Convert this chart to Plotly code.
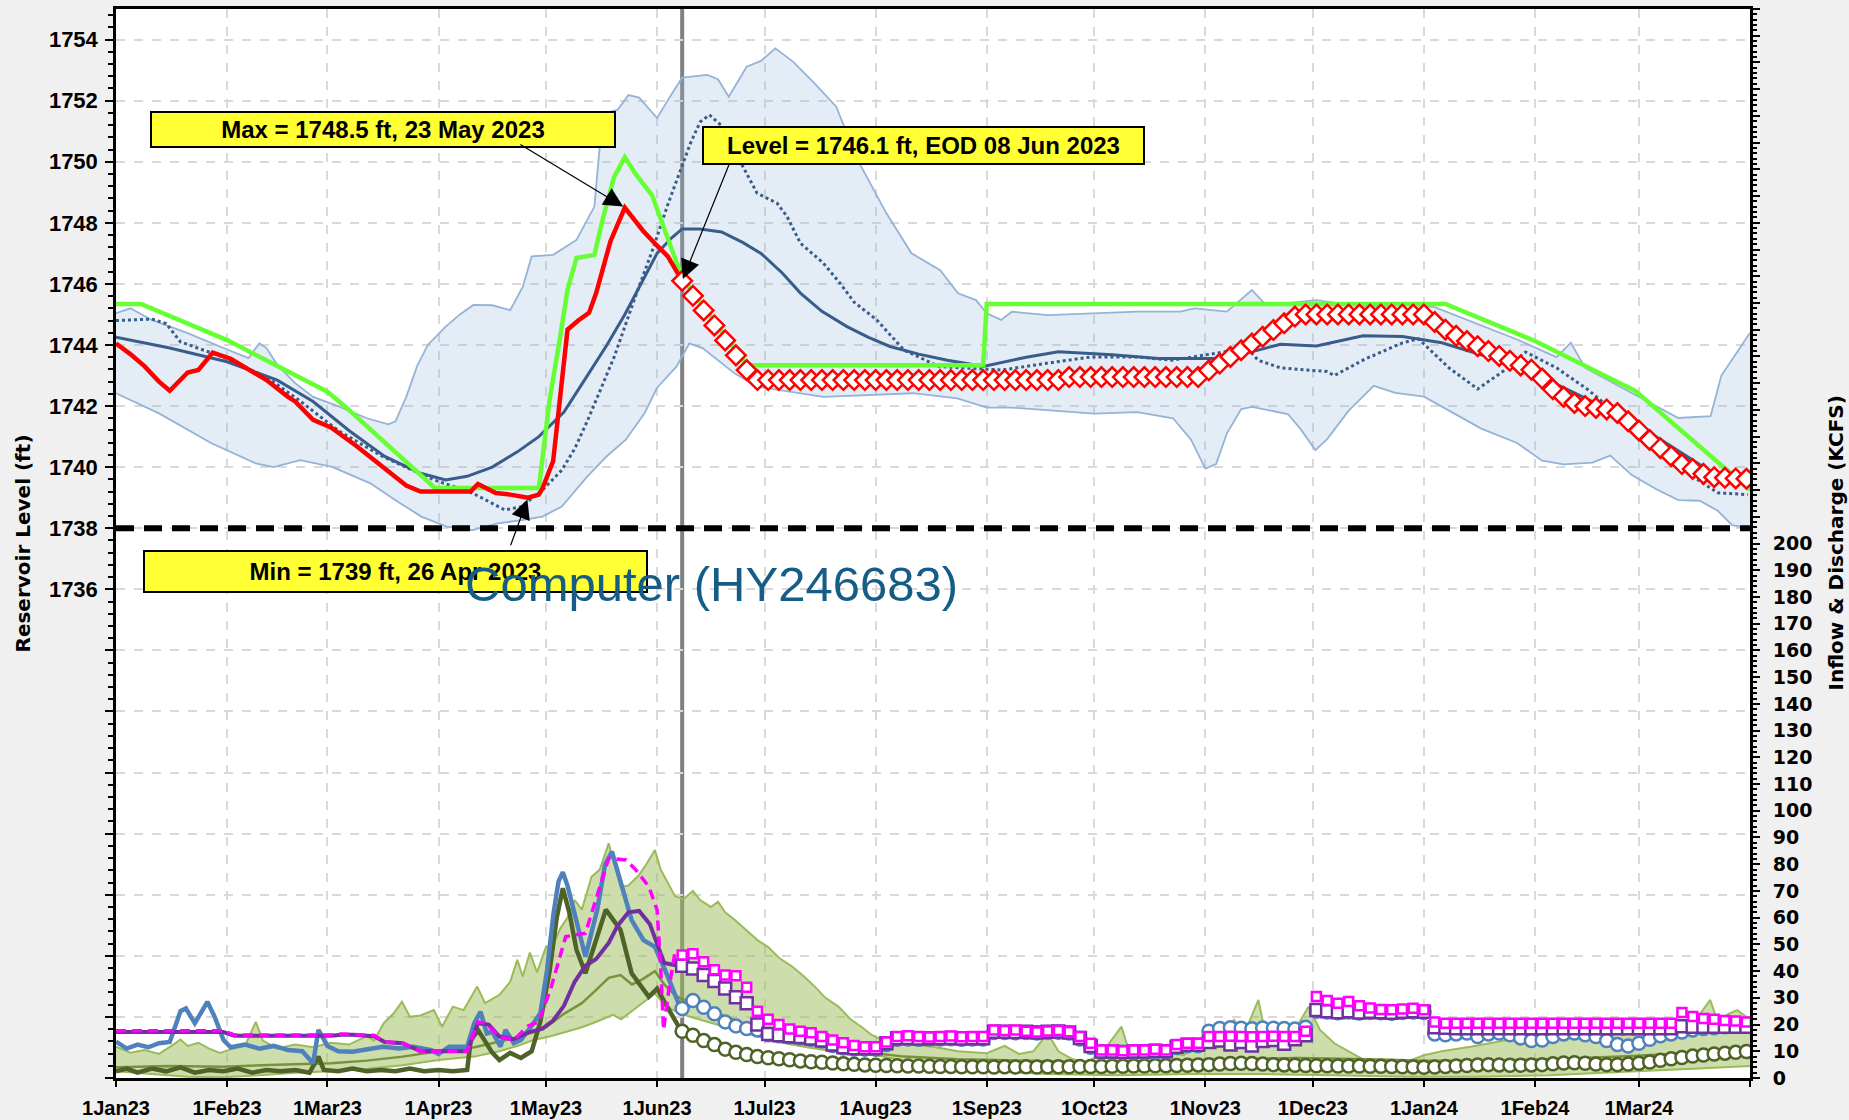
import numpy as np
import pandas as pd
import plotly.graph_objects as go

# ---------------------------------------------------------------------------
# Data  (day = days after 1 Jan 2023)
# ---------------------------------------------------------------------------
BASE = pd.Timestamp("2023-01-01")

# Reservoir level, observed (ft)
obs_day = [0, 4, 8, 12, 15, 17, 20, 23, 27, 32, 37, 42, 48, 50, 55, 60, 67, 74, 81, 85,
           99, 101, 106, 110, 115, 118, 119, 122, 124, 126, 129, 132, 134, 138, 142, 147, 151, 154, 158]
obs_lvl = [1744.05, 1743.7, 1743.3, 1742.8, 1742.5, 1742.75, 1743.1, 1743.18, 1743.75, 1743.55,
           1743.2, 1742.85, 1742.3, 1742.15, 1741.55, 1741.3, 1740.7, 1740.05, 1739.4, 1739.2,
           1739.2, 1739.45, 1739.15, 1739.1, 1739.0, 1739.1, 1739.3, 1740.2, 1742.5, 1744.5,
           1744.8, 1745.05, 1745.7, 1747.4, 1748.5, 1747.75, 1747.25, 1746.9, 1746.1]

# Reservoir level, forecast (ft), every third day from 8 Jun 2023
fc_lvl = [1746.10, 1745.61, 1745.13, 1744.64, 1744.15, 1743.66, 1743.18, 1742.85,
          1742.85, 1742.85, 1742.85, 1742.85, 1742.85, 1742.85, 1742.85, 1742.85, 1742.85, 1742.85,
          1742.85, 1742.85, 1742.85, 1742.85, 1742.85, 1742.85, 1742.85, 1742.85, 1742.85, 1742.85,
          1742.85, 1742.85, 1742.85, 1742.85, 1742.85, 1742.85, 1742.85, 1742.85,
          1742.95, 1742.95, 1742.95, 1742.95, 1742.95, 1742.95, 1742.95, 1742.95, 1742.95, 1742.95,
          1742.95, 1742.95, 1742.95,
          1743.17, 1743.39, 1743.61, 1743.83, 1744.05, 1744.27, 1744.49, 1744.71, 1744.93,
          1745.0, 1745.0, 1745.0, 1745.0, 1745.0, 1745.0, 1745.0, 1745.0, 1745.0, 1745.0, 1745.0, 1745.0,
          1744.75, 1744.50, 1744.30, 1744.13, 1743.96, 1743.80, 1743.64, 1743.48, 1743.33, 1743.19,
          1742.90, 1742.55, 1742.30, 1742.10, 1742.00, 1741.94, 1741.89, 1741.77, 1741.50, 1741.20,
          1740.89, 1740.62, 1740.36, 1740.10, 1739.94, 1739.78, 1739.67, 1739.65, 1739.63, 1739.62]

# Rule curve (ft)
rule_day = [0, 7, 31, 59, 64, 89, 118, 120, 121, 124, 126, 128.5, 133.5, 136, 139, 142, 145,
            149.6, 158, 176, 242, 243, 371, 396, 424, 456]
rule_lvl = [1745.34, 1745.34, 1744.16, 1742.47, 1741.98, 1739.32, 1739.32, 1741.3, 1742.2, 1744.3,
            1745.8, 1746.85, 1746.95, 1748.2, 1749.5, 1750.15, 1749.6, 1748.9, 1746.2, 1743.34,
            1743.34, 1745.34, 1745.34, 1744.13, 1742.5, 1739.25]

# Historical mean level (ft)
mean_day = [0, 15, 31, 45, 55, 65, 75, 85, 92, 98, 105, 112, 118, 125, 131, 137, 142, 147, 151,
            155, 158, 163, 169, 175, 180, 186, 191, 197, 204, 210, 216, 224, 232, 242, 248, 254,
            263, 278, 291, 307, 316, 325, 335, 348, 359, 370, 383, 397, 410, 423, 434, 445, 456]
mean_lvl = [1744.25, 1743.9, 1743.45, 1742.85, 1742.15, 1741.2, 1740.35, 1739.8, 1739.58, 1739.7,
            1740.0, 1740.5, 1741.0, 1741.8, 1742.9, 1744.0, 1745.0, 1746.1, 1747.0, 1747.5,
            1747.8, 1747.8, 1747.7, 1747.35, 1747.0, 1746.35, 1745.7, 1745.1, 1744.6, 1744.25,
            1743.95, 1743.7, 1743.5, 1743.3, 1743.45, 1743.6, 1743.78, 1743.68, 1743.56, 1743.56,
            1743.75, 1744.02, 1743.97, 1744.3, 1744.28, 1744.07, 1743.6, 1743.0, 1742.26, 1741.5,
            1740.68, 1739.86, 1739.4]

# Reference-year level (ft)
ref_day = [0, 10, 14, 18, 30, 42, 51, 62, 74.5, 88.8, 99.5, 108.5, 113, 119, 124.4, 128, 131.5,
           135, 139, 145, 150, 154, 158, 160.3, 163, 165.6, 168.8, 172, 176.1, 178.9, 184.5, 187.3,
           191, 197.4, 202, 206, 212.4, 219.9, 229.8, 247.3, 259.7, 272.2, 284.7, 294.6, 307,
           315.7, 318.7, 325, 337.9, 340, 348.6, 359, 363.5, 372, 380, 387, 393.4, 402, 410.5,
           419, 428.8, 439.4, 447, 455.4]
ref_lvl = [1744.8, 1744.85, 1744.7, 1744.1, 1743.6, 1742.95, 1742.2, 1741.2, 1740.34, 1739.58,
           1739.15, 1738.6, 1738.7, 1739.25, 1739.9, 1740.6, 1741.5, 1742.5, 1743.6, 1745.6,
           1747.2, 1748.6, 1749.9, 1750.6, 1751.3, 1751.53, 1751.2, 1750.5, 1749.62, 1748.97,
           1748.64, 1748.2, 1747.33, 1746.68, 1746.03, 1745.4, 1744.81, 1743.83, 1743.29, 1743.18,
           1743.4, 1743.61, 1743.61, 1743.5, 1743.73, 1743.9, 1743.5, 1743.25, 1743.13, 1743.0,
           1743.54, 1744.07, 1744.2, 1743.25, 1742.56, 1743.13, 1743.77, 1743.25, 1742.56,
           1741.74, 1740.92, 1739.74, 1739.16, 1739.1]

# Historical level range, upper / lower envelope (ft)
up_day = [0, 4, 10, 20, 30, 37, 40, 42, 45, 50, 55, 62, 70, 76, 78, 81, 84, 87, 92, 96,
          99.7, 105, 110, 113.5, 116, 122, 128.5, 133.5, 135, 136, 140, 143, 146, 151, 154.6, 158,
          165, 168, 171, 176, 180, 184, 189, 195, 201, 207, 215, 222, 230, 235, 240, 243, 247, 250,
          260, 272, 285, 297, 301, 310, 317, 321, 335, 349, 361, 368, 381, 391, 402, 406, 410, 423,
          436, 445, 448, 452, 456]
up_lvl = [1745.04, 1745.2, 1744.82, 1744.39, 1743.9, 1743.57, 1744.06, 1743.9, 1743.35, 1742.75,
          1742.3, 1742.0, 1741.6, 1741.4, 1741.5, 1742.3, 1743.3, 1744.0, 1744.6, 1745.0,
          1745.31, 1745.3, 1745.14, 1745.9, 1746.9, 1746.95, 1747.44, 1748.53, 1750.5, 1751.58,
          1751.7, 1752.18, 1752.1, 1751.43, 1752.13, 1752.75, 1752.84, 1752.7, 1752.13, 1753.11,
          1753.3, 1753.71, 1753.27, 1752.56, 1751.8, 1750.05, 1748.31, 1747.0, 1746.45, 1745.69,
          1745.47, 1745.04, 1744.82, 1745.09, 1744.98, 1745.04, 1745.09, 1745.09, 1745.2, 1745.09,
          1745.8, 1745.3, 1745.47, 1745.24, 1745.31, 1745.24, 1744.65, 1744.18, 1743.6, 1744.07,
          1743.25, 1742.43, 1741.61, 1741.67, 1743.0, 1743.7, 1744.4]
lo_day = [0, 12, 26.5, 39, 44, 51.4, 60.3, 71, 78, 85.2, 92.3, 99.5, 106.5, 113.7, 119, 124.4,
          131.5, 136.8, 142.2, 147.5, 151, 156.4, 160, 163.8, 172.6, 178.8, 197.4, 212.4, 222.4,
          234.8, 243, 250, 262, 273, 285, 295, 300, 304, 307, 310, 314, 317, 327, 330.5, 334.7,
          338, 344, 351, 357, 365, 372, 381, 391, 398, 404, 412, 417, 423, 430, 436, 442, 447,
          451, 456]
lo_lvl = [1742.42, 1741.76, 1740.79, 1740.12, 1740.0, 1740.23, 1740.01, 1739.47, 1738.92, 1738.38,
          1738.05, 1737.94, 1738.16, 1738.27, 1738.38, 1738.71, 1739.69, 1740.34, 1740.89, 1741.76,
          1742.6, 1743.29, 1744.05, 1743.89, 1743.07, 1742.64, 1742.3, 1742.36, 1742.42, 1742.25,
          1741.95, 1741.95, 1741.85, 1741.75, 1741.8, 1741.6, 1740.9, 1739.95, 1740.1, 1741.1,
          1741.9, 1741.97, 1741.74, 1741.26, 1740.56, 1740.92, 1741.85, 1742.66, 1742.43, 1742.31,
          1741.85, 1741.26, 1740.79, 1740.21, 1740.09, 1740.15, 1740.38, 1739.74, 1739.27, 1738.92,
          1738.9, 1738.57, 1738.1, 1737.99]

# Historical inflow range and median (kcfs)
fu_day = [0, 4, 8, 12, 16, 18, 20, 23, 26, 29, 32, 36, 39, 41, 45, 50, 55, 60, 65, 70,
          72, 74.7, 77.5, 79.8, 82, 85, 88.7, 91, 94, 97, 100.8, 103, 107, 110, 112, 113.5, 115.5,
          117.5, 120, 122, 124, 126, 128, 130, 132.7, 135, 137.5, 139, 140.8, 143, 146, 148, 150.4,
          152, 154.4, 156, 158.4, 161, 163, 166, 168, 170, 172.8, 176, 179, 182, 185, 188.7, 192,
          195, 198, 201.6, 205, 208, 211, 214, 218, 222, 228, 235, 240, 243, 248, 252, 256, 260,
          263, 267, 271, 275, 280.6, 283, 288, 293, 298, 303, 307, 312, 315, 318.8, 321, 325, 329,
          332.8, 336, 340, 345, 350, 355, 360, 365, 370, 378, 388, 398, 408, 418, 425, 432, 438,
          441, 444.9, 447, 450, 452.4, 455, 456]
fu_val = [11.7, 9.5, 10.5, 9, 12.5, 14.4, 12, 13.2, 11, 9.4, 10.7, 12, 21, 14, 11, 12.5, 11.5,
          13.2, 12.5, 15.7, 14, 20.5, 24.2, 28.6, 22.9, 23.4, 25.4, 19.2, 26.7, 25.4, 34.2, 28,
          31.1, 36, 44.2, 38, 46.9, 39.5, 49.1, 50, 56, 60, 66.6, 63, 75.3, 78, 87.8, 80, 71.6, 72,
          76, 80, 85.3, 78, 72, 68, 67, 70, 66.6, 64, 66, 62, 59, 55, 51.6, 49, 45, 41.7, 38, 34.2,
          30, 26.7, 22, 19.2, 16, 14.2, 13, 12.5, 11.7, 10, 9.5, 9.3, 12, 9, 10, 16.7, 10, 7, 6, 9,
          19.2, 9, 8, 9.5, 8.5, 15, 11, 21.7, 17, 29.2, 15, 19.9, 18, 26.7, 18, 13, 9.2, 5.5, 4.2,
          6, 8.5, 10, 11.7, 14.2, 16.6, 18, 19.2, 18.5, 21.7, 19, 22, 29.2, 21, 24, 25.4, 22.9, 22.5]
fl_day = [0, 10, 20, 30, 40, 50, 60, 70, 80, 90, 100, 107, 112, 116.5, 121, 125.7, 130, 133, 136,
          138.7, 141, 144, 147, 150.4, 153, 156, 160, 165, 169.6, 175, 179.2, 185, 192, 200, 208,
          214, 222, 232, 245, 260, 280, 300, 320, 340, 360, 380, 400, 415, 425, 440, 456]
fl_val = [2.5, 1.5, 0.5, 0.3, 1, 2, 2.5, 3.5, 4.8, 6.7, 8, 10, 12, 14.2, 15.5, 17.3, 19, 20.5, 22,
          23.6, 22, 25, 28, 31.6, 27.5, 25, 23, 21, 19.2, 17, 15.5, 13.5, 11.7, 10, 9.2, 8, 6, 4,
          2.5, 1.5, 1, 1.5, 1.5, 1, 0.5, 0.5, 1, 2, 2.5, 3.5, 4.5]
fm_day = [0, 15, 30, 45, 60, 70, 80, 90, 100, 110, 116, 120, 125, 130, 134, 137.5, 140.8, 144,
          147, 150.4, 153, 156, 158, 163, 170, 180, 190, 200, 210, 220, 235, 250, 270, 290, 310,
          330, 350, 365, 380, 400, 420, 440, 456]
fm_val = [4, 4.5, 4.2, 5, 5.5, 6.5, 8, 10, 11.5, 14.5, 17, 19, 24, 28, 33, 37.5, 38.5, 35, 37, 40,
          35, 31, 29.5, 27, 23, 18, 14, 11.5, 9.5, 8, 7, 6.5, 6, 6.5, 7, 7.5, 7, 6.5, 6.5, 7, 8,
          9.5, 10.5]

# Observed flows (kcfs)
do_day = [0, 3, 6, 10, 14, 18, 22, 26, 30, 34, 38, 42, 46, 50, 54, 56.5, 58, 62, 66, 70, 74, 78,
          82, 86, 90, 94, 98, 99, 101, 103, 105, 107, 110, 113, 116, 118.4, 121, 123, 124.7,
          126.5, 128.5, 131, 134, 136.7, 140.8, 143.9, 148.7, 151, 154.4, 157.5, 158]
do_val = [2.5, 3.5, 2, 3.5, 2.5, 4, 2, 3, 2.5, 3.5, 2, 3, 2.5, 3, 2, 8, 3, 2.5, 3.5, 2.5, 3, 2.5,
          3.5, 2.5, 3, 2.5, 3, 14, 18, 14, 9.5, 6.7, 9.4, 7.5, 10, 21, 40, 60, 71, 62, 48, 39.2,
          52, 63, 55.4, 39.2, 30.4, 33.4, 25.3, 17.4, 17]
bl_day = [0, 3, 6, 9, 12, 15, 18, 19.5, 22, 23.5, 25.5, 27.5, 30, 32, 36, 40, 44, 48, 52, 55,
          56.5, 59, 62, 66, 70, 74.5, 79, 83, 88, 90, 93, 98, 100, 101.7, 103.5, 105, 107.3, 108.7,
          111, 113, 115.8, 118.4, 120.3, 122.1, 123.5, 124.7, 126, 128, 131, 134.3, 136.5, 138.4,
          140.8, 143.9, 147.2, 150.4, 153.6, 157.5, 158]
bl_val = [13.6, 11, 12.5, 11.5, 13, 13.5, 25, 26, 20.5, 24, 28.5, 23, 14.2, 11.5, 12.5, 11, 12,
          10.5, 10, 5.5, 18, 12, 10, 9.8, 10.5, 11.7, 11, 11.7, 10.4, 9, 11.7, 11.7, 20.5, 24.8,
          16.7, 17.3, 11.7, 18, 13, 14.2, 19.2, 24.2, 40.4, 61.6, 73.6, 77, 72, 61.6, 45.4, 62.9,
          80, 84.7, 74.1, 59.1, 51.6, 49.1, 39.2, 26.2, 26]
pu_day = [0, 30, 33, 60, 63, 66, 72, 75, 80, 85, 98, 101, 104, 107, 111, 115, 119, 122, 125, 128,
          131, 134, 137.5, 140, 143, 146, 149, 151, 153, 158]
pu_val = [17.2, 17.2, 15.8, 15.8, 16.2, 16.2, 15.6, 13.5, 13.0, 10.0, 10.0, 20.5, 20.0, 15.5, 14.5,
          17.0, 18.5, 21.5, 27, 36, 42, 44.5, 50.5, 57, 62, 62.5, 57.5, 50, 43, 41.7]
mg_day = [0, 30, 33, 60, 62, 66, 72, 75, 80, 85, 98, 101, 103, 107, 111, 115, 118, 121.5, 125.5,
          131, 134.3, 137.5, 142.3, 145, 148.7, 151, 152, 152.8, 154.4, 156, 158]
mg_val = [17.7, 17.7, 16.1, 16.1, 16.5, 16.2, 16.0, 13.5, 13.0, 10.0, 10.0, 21.0, 20.5, 15.5, 14.2,
          19.5, 21.0, 34.2, 52.9, 54.2, 67.9, 82.2, 81.6, 78, 71.6, 62.9, 41.7, 18.0, 34.2, 47, 46]

# Forecast flows (kcfs), every third day from 8 Jun 2023
do_fc = [17.5, 16, 14, 12.5, 10.8, 9.6, 8.8, 8, 7.6, 7.2, 6.8, 6.4, 6.1, 5.9, 5.6, 5.3, 5.1, 4.9,
         4.8, 4.7, 4.6, 4.5, 4.5, 4.4, 4.3, 4.3, 4.2, 4.2, 4.2, 4.1, 4.2, 4.1, 4.2, 4.1, 4.2, 4.2,
         4.2, 4.3, 4.3, 4.3, 4.4, 4.4, 4.5, 4.5, 4.6, 4.6, 4.7, 4.8, 4.9, 5.0, 5.2, 5.4, 5.5, 5.4,
         5.2, 5.0, 4.9, 4.8, 4.7, 4.6, 4.6, 4.5, 4.5, 4.5, 4.4, 4.4, 4.3, 4.2, 4.1, 4.0, 4.1, 4.3,
         4.5, 4.7, 4.9, 5.0, 4.9, 4.8, 4.8, 4.9, 5.0, 5.3, 5.6, 5.7, 5.5, 5.2, 5.0, 5.0, 5.2, 5.5,
         6.0, 6.6, 7.2, 7.7, 8.2, 8.6, 9.0, 9.3, 9.6, 9.9]
bl_fc = [26, 29, 26.5, 24, 21, 19.5, 18.5, 18,
         16.2, 15.8, 15.3, 15, 14.5, 13.8, 12.2, 11.2, 10.8, 10.8,
         10.8, 12.5, 14.5, 14.6, 14.5, 14.6, 14.6, 14.7, 14.5, 14.6, 14.6,
         17, 17, 16.9, 17, 16.8, 17, 17.1, 16.8,
         14.6, 11.5,
         9.6, 9.6, 9.5, 9.6, 9.6, 9.8,
         9.8, 11.4, 12.1, 12.1,
         17.5, 18.5, 18.8, 18.6, 18.4, 18.7, 18.6, 18.5, 18.3,
         19,
         25, 24.7, 24.4, 24.7, 24.3, 24.5, 24.4, 24.2, 24.5, 24.7, 24.5,
         16.5, 16.2, 16.5, 16.8, 15.5, 16.5, 16.8, 16.2, 15, 14, 14.2, 15.5, 16.5, 16.8, 16.2,
         15.5, 14, 12.5, 12, 13,
         14.5, 15.8, 16.5, 17.2, 18, 18.5, 18.8, 19.2, 19.4, 19.6]
pu_fc = [42, 41, 38.5, 36.3, 33.5, 30.2, 28, 20,
         16.5, 16, 15.6, 15.3, 14.8, 14, 12.5, 11.5, 11.1, 11.1,
         11.1, 13, 14.9, 15, 14.8, 14.9, 14.9, 15, 14.8, 14.9, 14.9,
         17.3, 17.3, 17.2, 17.3, 17, 17.3, 17.4, 17,
         15, 12,
         9.9, 9.9, 9.7, 9.9, 9.9, 10.2,
         10, 11.7, 12.4, 12.4,
         13.5, 14, 12.5, 13.5, 12.2, 13.8, 14.2, 12.8, 14.5,
         16,
         25.4, 25, 24.6, 25, 24.5, 24.8, 24.6, 24.4, 24.8, 25, 24.8,
         19, 18.8, 18.6, 18.6, 18.6, 18.6, 18.6, 18.6, 18.6, 18.6, 18.6, 18.6, 18.6, 18.6, 18.6,
         18.6, 18.6, 18.6, 18.6, 18.6,
         18.6, 18.6, 18.6, 19.4, 19.2, 19.2, 19.2, 19.2, 19.2, 19.2]
mg_fc = [46, 46.5, 43.5, 40.5, 38.5, 38.3, 34, 25,
         22, 20, 18.3, 17.5, 16.9, 15.5, 14.2, 13.2, 12.2, 11.7,
         11.7, 13.5, 15.5, 15.8, 15.5, 15.3, 15.5, 15.7, 15.4, 15.5, 15.5,
         18, 17.8, 18, 17.5, 17.2, 17.6, 17.8, 17.3,
         15.5, 13,
         10.5, 10.5, 10.2, 10.5, 10.5, 10.8,
         10.5, 12.5, 13, 13,
         15.5, 15.5, 15.6, 15.5, 15.4, 15.5, 15.6, 15.5, 15.5,
         17.5,
         30.5, 29, 28, 28.6, 27, 26.2, 25.6, 25.5, 25.8, 26.1, 25.5,
         21, 20.5, 20.5, 20.5, 20.5, 20.5, 20.5, 20.5, 20.5, 20.5, 20.5, 20.5, 20.5, 20.5, 20.5,
         20.5, 20.5, 20.5, 20.5, 20.5,
         20.5, 20.5, 20.5, 24.5, 23, 22.3, 22, 21.5, 21.3, 21]

# Axis ticks
month_ticks = pd.date_range("2023-01-01", "2024-04-01", freq="MS")
month_labels = [f"{d.day}{d:%b%y}" for d in month_ticks[:-1]] + [""]
lvl_ticks = list(range(1720, 1756, 2))
flow_ticks = list(range(0, 410, 10))

# ---------------------------------------------------------------------------
def on_day(days):
    return list(BASE + pd.to_timedelta(np.asarray(days, dtype=float), unit="D"))


fc_dates = list(pd.date_range("2023-06-08", "2024-03-31", freq="3D"))

# plot-area geometry in pixels
W, H = 1849, 1120
L, R, T, B = 116, 1750, 9, 1078
PW, PH = R - L, B - T


def px(x):
    return (x - L) / PW


def py(y):
    return (B - y) / PH


fig = go.Figure()


def add_line(x, y, color, width, dash=None, axis="y"):
    fig.add_trace(go.Scatter(x=x, y=y, mode="lines", yaxis=axis,
                             line=dict(color=color, width=width, dash=dash),
                             hoverinfo="skip"))


def add_marks(y, symbol, size, color, axis="y", lw=2):
    fig.add_trace(go.Scatter(x=fc_dates, y=y, mode="markers", yaxis=axis,
                             marker=dict(symbol=symbol, size=size, color="white",
                                         line=dict(color=color, width=lw)),
                             hoverinfo="skip"))


# inflow range band
fig.add_trace(go.Scatter(x=on_day(fu_day) + on_day(fl_day)[::-1], y=fu_val + fl_val[::-1],
                         yaxis="y2", mode="lines", fill="toself",
                         fillcolor="rgba(155,187,89,0.5)", line=dict(width=0),
                         hoverinfo="skip"))
add_line(on_day(fu_day), fu_val, "#9bbb59", 2, axis="y2")
add_line(on_day(fl_day), fl_val, "#9bbb59", 2, axis="y2")
add_line(on_day(fm_day), fm_val, "#77933c", 2.5, axis="y2")

# level range band
fig.add_trace(go.Scatter(x=on_day(up_day) + on_day(lo_day)[::-1], y=up_lvl + lo_lvl[::-1],
                         mode="lines", fill="toself", fillcolor="rgba(149,179,215,0.25)",
                         line=dict(width=0), hoverinfo="skip"))
add_line(on_day(up_day), up_lvl, "#95b3d7", 1.8)
add_line(on_day(lo_day), lo_lvl, "#95b3d7", 1.8)
add_line(on_day(mean_day), mean_lvl, "#385d8a", 3)
add_line(on_day(ref_day), ref_lvl, "#385d8a", 3, dash="dot")
add_line(on_day(rule_day), rule_lvl, "#66ff33", 4.5)

# observed flows
add_line(on_day(do_day), do_val, "#4f6228", 4.5, axis="y2")
add_line(on_day(bl_day), bl_val, "#4f81bd", 4.5, axis="y2")
add_line(on_day(pu_day), pu_val, "#7030a0", 4, axis="y2")
add_line(on_day(mg_day), mg_val, "#ff00ff", 3.5, dash="10px,6px", axis="y2")

# forecast flows
add_marks(do_fc, "circle", 13, "#4f6228", axis="y2", lw=2.5)
add_marks(bl_fc, "circle", 13, "#4f81bd", axis="y2", lw=2.5)
add_marks(pu_fc, "square", 12, "#7030a0", axis="y2", lw=2.5)
add_marks(mg_fc, "square", 9, "#ff00ff", axis="y2", lw=2.5)

# observed and forecast level
add_line(on_day(obs_day), obs_lvl, "#ff0000", 4.5)
add_marks(fc_lvl, "diamond", 15, "#ff0000", lw=2.5)

# ---------------------------------------------------------------------------
obs_dates = on_day(obs_day)
now_date = obs_dates[-1]

fig.add_shape(type="line", xref="x", yref="paper", x0=now_date, x1=now_date, y0=0, y1=1,
              line=dict(color="#808080", width=4), layer="between")
fig.add_shape(type="line", xref="paper", yref="y", x0=0, x1=1, y0=1738, y1=1738,
              line=dict(color="black", width=6, dash="18px,10px"), layer="above")

BOX_FONT = dict(family="Liberation Sans, Arial, sans-serif", size=24, color="black", weight="bold")


def callout(text, x0, x1, y0, y1):
    fig.add_annotation(xref="paper", yref="paper", x=px((x0 + x1) / 2), y=py((y0 + y1) / 2),
                       text=text, showarrow=False, font=BOX_FONT, bgcolor="#ffff33",
                       bordercolor="black", borderwidth=2, borderpad=0,
                       width=x1 - x0 - 2, height=y1 - y0 - 2,
                       xanchor="center", yanchor="middle", align="center", valign="middle")


def pointer(x, y, ax, ay):
    fig.add_annotation(x=x, y=y, xref="x", yref="y", ax=ax, ay=ay, text="", showarrow=True,
                       arrowhead=2, arrowsize=3.2, arrowwidth=1.2, arrowcolor="black",
                       standoff=2)


i_max = int(np.argmax(obs_lvl))
i_min = int(np.argmin(obs_lvl))
d_max, d_min = obs_dates[i_max], obs_dates[i_min]

callout(f"Max = {obs_lvl[i_max]:g} ft, {d_max:%d %b %Y}", 151, 615, 112, 147)
callout(f"Level = {obs_lvl[-1]:g} ft, EOD {now_date:%d %b %Y}", 703, 1144, 127, 164)
callout(f"Min = {obs_lvl[i_min]:g} ft, {d_min:%d %b %Y}", 144, 647, 551, 592)

pointer(d_max, obs_lvl[i_max], -106, -64)
pointer(now_date, obs_lvl[-1], 48, -119)
pointer(d_min, obs_lvl[i_min], -18, 49)

fig.add_annotation(xref="paper", yref="paper", x=px(711), y=py(584), text="Computer (HY246683)",
                   showarrow=False, xanchor="center", yanchor="middle",
                   font=dict(family="Liberation Sans, Arial, sans-serif", size=49, color="#155d86"))

TITLE_FONT = dict(family="DejaVu Sans, Verdana, sans-serif", size=20, color="black", weight="bold")
fig.add_annotation(xref="paper", yref="paper", x=px(22), y=0.5, text="Reservoir Level (ft)",
                   textangle=-90, showarrow=False, xanchor="center", yanchor="middle",
                   font=TITLE_FONT)
fig.add_annotation(xref="paper", yref="paper", x=px(1835), y=0.5,
                   text="Inflow & Discharge (KCFS)", textangle=-90, showarrow=False,
                   xanchor="center", yanchor="middle", font=TITLE_FONT)

GRID = dict(showgrid=True, gridcolor="#d9d9d9", griddash="dash", gridwidth=1.5)

fig.update_layout(
    width=W, height=H, margin=dict(l=L, r=W - R, t=T, b=H - B, autoexpand=False),
    paper_bgcolor="#f0f0f0", plot_bgcolor="white", showlegend=False,
    xaxis=dict(type="date", range=["2023-01-01", "2024-04-01"], automargin=False,
               tickmode="array", tickvals=list(month_ticks), ticktext=month_labels,
               ticks="outside", ticklen=6, tickwidth=2, tickcolor="black",
               showline=True, linecolor="black", linewidth=2.5, mirror=True,
               tickfont=dict(family="Liberation Sans, Arial, sans-serif", size=20,
                             color="black", weight="bold"),
               ticklabelstandoff=4, **GRID),
    yaxis=dict(range=[1720, 1755], automargin=False, tickmode="array", tickvals=lvl_ticks,
               ticktext=[str(v) if v >= 1736 else "" for v in lvl_ticks],
               ticks="outside", ticklen=8, tickwidth=2, tickcolor="black",
               showline=True, linecolor="black", linewidth=2.5, zeroline=False,
               minor=dict(tickmode="linear", tick0=1720, dtick=0.4, ticks="outside",
                          ticklen=5, tickwidth=1.5, tickcolor="black", showgrid=False),
               tickfont=dict(family="Liberation Sans, Arial, sans-serif", size=22,
                             color="black", weight="bold"),
               ticklabelstandoff=3, **GRID),
    yaxis2=dict(range=[0, 400], automargin=False, overlaying="y", side="right",
                tickmode="array",
                tickvals=flow_ticks, ticktext=[str(v) if v <= 200 else "" for v in flow_ticks],
                ticks="outside", ticklen=7, tickwidth=2, tickcolor="black",
                showline=True, linecolor="black", linewidth=3, zeroline=False, showgrid=False,
                minor=dict(tickmode="linear", tick0=0, dtick=2, ticks="outside",
                           ticklen=4, tickwidth=1.5, tickcolor="black", showgrid=False),
                tickfont=dict(family="DejaVu Sans, Verdana, sans-serif", size=19,
                              color="black", weight="bold"),
                ticklabelstandoff=9),
)

fig.write_html("out.html")
